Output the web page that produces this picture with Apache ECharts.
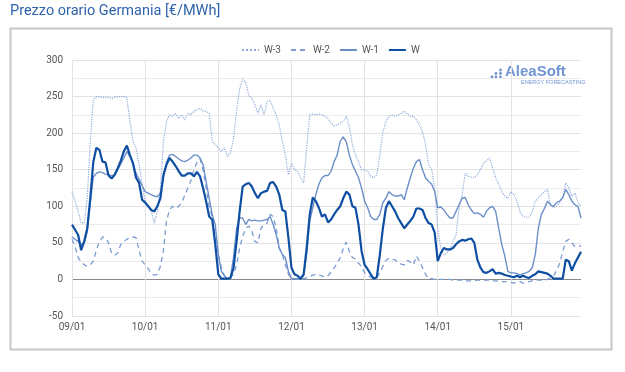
<!DOCTYPE html>
<html><head><meta charset="utf-8">
<script src="https://cdn.jsdelivr.net/npm/echarts@6/dist/echarts.min.js"></script>
<style>html,body{margin:0;padding:0;background:#fff}#c{width:625px;height:372px}</style>
</head><body><div id="c"></div>
<script>
const dayLabels = ['09/01','10/01','11/01','12/01','13/01','14/01','15/01'];
const yTicks = [-50,0,50,100,150,200,250,300];
const seriesNames = ['W-3','W-2','W-1','W'];

const w = [
75,68,61,40,52,70,111,161,180,177,161,160,142,138,143,152,162,175,183,170,159,139,132,109,
105,100,95,93,100,111,143,157,166,161,155,148,142,142,145,145,141,147,141,125,107,86,82,48,
7,1,1,1,2,16,52,93,127,130,132,127,118,111,118,120,121,132,133,127,116,95,93,57,
16,7,5,1,7,43,89,112,107,98,86,89,78,82,89,95,100,111,120,116,100,98,75,39,
20,14,7,1,3,34,70,98,107,100,93,84,77,70,75,80,86,97,97,95,84,77,75,64,
25,36,43,41,41,43,48,52,54,53,55,56,50,27,16,10,9,11,14,8,9,8,6,5,
4,3,5,3,5,3,2,5,7,11,10,9,8,5,1,1,1,1,27,25,12,22,30,38];

const w1 = [
58,55,52,48,50,65,105,140,145,147,146,144,143,142,143,150,158,166,175,168,160,145,137,128,
120,118,116,114,113,118,140,160,170,171,168,165,162,161,163,166,170,170,166,157,134,111,89,75,
34,11,5,1,3,30,70,84,84,75,82,80,81,80,80,81,82,86,75,61,43,34,30,11,
1,1,1,1,5,34,80,98,116,130,139,142,142,148,161,170,189,195,188,170,157,148,139,125,
107,98,86,82,82,89,105,111,120,116,114,114,116,109,125,139,152,161,164,150,139,134,130,120,
98,99,95,89,84,84,93,102,111,112,102,95,90,91,89,85,93,98,100,93,70,48,32,11,
9,9,8,6,8,9,11,16,34,70,89,97,107,102,100,105,107,112,123,116,107,102,100,84];

const w2 = [
55,45,30,24,20,18,20,25,40,52,58,57,50,36,33,36,48,52,55,57,58,57,40,25,
20,15,8,6,7,18,40,80,95,100,97,100,105,115,125,135,150,160,165,150,125,100,85,61,
34,16,5,2,3,7,20,43,59,70,73,66,52,50,70,75,77,89,86,70,43,34,20,7,
2,1,0,1,1,2,3,6,7,6,5,3,5,10,16,22,30,42,51,38,30,28,22,18,
9,6,3,1,3,9,18,26,29,27,27,23,21,20,26,24,20,32,25,16,7,1,1,0,
0,0,0,0,0,-1,-1,-1,-1,-2,-2,-2,-2,-1,-1,-1,-1,-1,-2,-2,-2,-3,-3,-3,
-4,-5,-4,-3,-5,-4,-3,-2,-1,-1,-1,-1,0,2,5,12,22,38,52,55,50,45,45,46];

const w3 = [
120,107,93,77,77,111,189,245,250,250,249,249,249,247,249,250,250,250,249,216,189,180,157,130,
107,100,93,77,93,125,189,216,225,223,227,220,225,218,227,225,230,232,234,230,230,227,189,184,
180,175,180,168,173,193,230,261,273,270,252,248,239,227,239,225,243,245,234,225,211,189,170,143,
159,150,148,139,132,180,225,226,225,226,225,223,220,214,210,211,214,216,223,209,184,170,161,150,
150,148,141,139,143,170,202,216,223,225,223,225,227,230,226,223,223,218,211,202,184,157,150,125,
70,43,34,36,41,52,61,98,116,145,141,140,139,143,150,159,162,166,152,139,130,120,114,111,
120,116,107,93,86,85,85,93,107,111,116,120,123,102,98,100,105,111,132,125,114,118,105,100];

const hours = [];
for (let d = 0; d < dayLabels.length; d++) for (let h = 0; h < 24; h++) hours.push(dayLabels[d]);

const chart = echarts.init(document.getElementById('c'), null, {renderer:'canvas'});
const gridColors = yTicks.map(v => v === 0 ? '#8a8a8a' : '#e2e2e2');

chart.setOption({
  animation:false,
  backgroundColor:'#fff',
  textStyle:{fontFamily:'Roboto, Arial, sans-serif'},
  graphic:[
    {type:'text', left:10, top:4, style:{text:'Prezzo orario Germania [€/MWh]', fill:'#2f63ad', font:'14.5px Roboto, Arial, sans-serif'}},
    {type:'rect', shape:{x:10.5,y:28.5,width:601,height:321}, style:{fill:'none', stroke:'#c8c8c8', lineWidth:2}, z:-1},
    {type:'text', left:505, top:64, style:{text:'AleaSoft', fill:'#6f95d3', font:'bold 15px Arial, sans-serif'}},
    {type:'text', left:521, top:79, style:{text:'ENERGY FORECASTING', fill:'#6f95d3', font:'5.5px Arial, sans-serif'}},
    {type:'circle', shape:{cx:492,cy:77,r:1.4}, style:{fill:'#6f95d3'}},
    {type:'circle', shape:{cx:496,cy:77,r:1.4}, style:{fill:'#6f95d3'}},
    {type:'circle', shape:{cx:496,cy:73.5,r:1.4}, style:{fill:'#6f95d3'}},
    {type:'circle', shape:{cx:500.5,cy:77,r:1.4}, style:{fill:'#6f95d3'}},
    {type:'circle', shape:{cx:500.5,cy:73.5,r:1.4}, style:{fill:'#6f95d3'}},
    {type:'circle', shape:{cx:500.5,cy:70,r:1.4}, style:{fill:'#6f95d3'}}
  ],
  legend:{
    data:seriesNames, top:40, left:236, itemWidth:17, itemHeight:10, itemGap:9,
    itemStyle:{opacity:0},
    textStyle:{color:'#555', fontSize:10}
  },
  grid:{left:72, right:44, top:60, bottom:56},
  xAxis:{
    type:'category', data:hours, boundaryGap:false,
    axisLine:{show:false}, axisTick:{show:false},
    axisLabel:{interval:(i)=> i%24===0, color:'#555', fontSize:10, margin:6},
    splitLine:{show:true, interval:(i)=> i%24===0, lineStyle:{color:'#e2e2e2', width:1}}
  },
  yAxis:{
    type:'value', min:-50, max:300, interval:50,
    axisLine:{show:false}, axisTick:{show:false},
    axisLabel:{color:'#555', fontSize:10, margin:9},
    splitLine:{lineStyle:{color:gridColors, width:1}},
    minorTick:{show:false, splitNumber:2},
    minorSplitLine:{show:true, lineStyle:{color:'#ececec', width:1}}
  },
  series:[
    {name:'W-3', type:'line', data:w3, symbol:'none', color:'#8eaadb', lineStyle:{width:1.2, type:'dotted', color:'#8eaadb'}, z:2},
    {name:'W-2', type:'line', data:w2, symbol:'none', color:'#7c9cd2', lineStyle:{width:1.3, type:[5,4], color:'#7c9cd2'}, z:3},
    {name:'W-1', type:'line', data:w1, symbol:'none', color:'#6b8fc9', lineStyle:{width:1.4, color:'#6b8fc9'}, z:4},
    {name:'W', type:'line', data:w, symbol:'none', color:'#0e4ea3', lineStyle:{width:2.2, color:'#0e4ea3'}, z:5}
  ]
});
</script></body></html>
